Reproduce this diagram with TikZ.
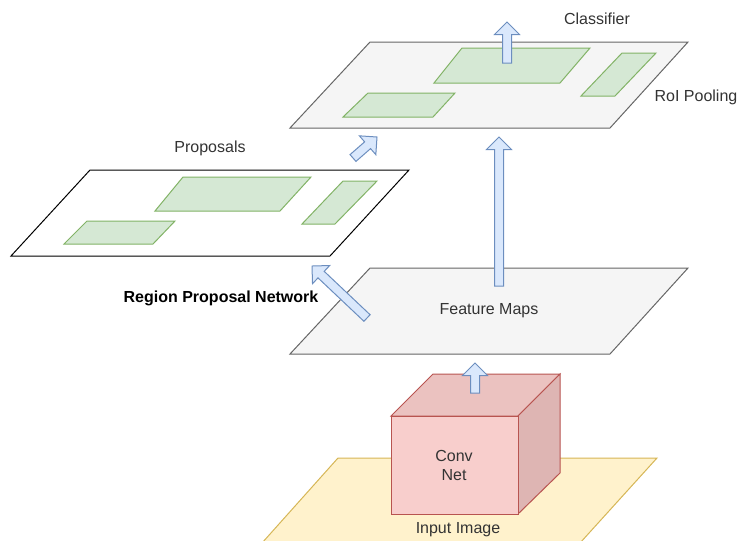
\documentclass[tikz,border=0pt]{standalone}
\usepackage{fontspec}
\setmainfont{Liberation Sans}
\usetikzlibrary{shapes.arrows,calc}

\definecolor{txtgray}{HTML}{333333}
\definecolor{planefill}{HTML}{F5F5F5}
\definecolor{planeline}{HTML}{666666}
\definecolor{roifill}{HTML}{D5E8D4}
\definecolor{roiline}{HTML}{82B366}
\definecolor{arrfill}{HTML}{DAE8FC}
\definecolor{arrline}{HTML}{6C8EBF}
\definecolor{imgfill}{HTML}{FFF2CC}
\definecolor{imgline}{HTML}{D6B656}
\definecolor{cubefront}{HTML}{F8CECC}
\definecolor{cubetop}{HTML}{EBC2C0}
\definecolor{cubeside}{HTML}{DEB5B3}
\definecolor{cubeline}{HTML}{B85450}

\tikzset{
  plane/.style={draw=planeline, fill=planefill},
  roi/.style={draw=roiline, fill=roifill},
  label/.style={text=txtgray, font=\fontsize{16}{19}\selectfont, align=center},
  blockarrow/.style={single arrow, draw=arrline, fill=arrfill, inner xsep=0pt,
    inner ysep=4pt, outer sep=0pt, single arrow head extend=8pt,
    single arrow tip angle=90, single arrow head indent=0pt, anchor=tail}
}

% block arrow between two named points
\newcommand{\blockarr}[2]{
  \path let \p1=($(#2)-(#1)$), \n1={veclen(\x1,\y1)}, \n2={atan2(\y1,\x1)} in
    node[blockarrow, minimum height=\n1, rotate=\n2] at (#1) {};
}

\begin{document}
\begin{tikzpicture}[x=1pt, y=-1pt, line width=1pt]
  \useasboundingbox (0,0) rectangle (737,541);

  % input image
  \draw[draw=imgline, fill=imgfill] (338,458) -- (657,458) -- (580,543) -- (262,543) -- cycle;
  \node[label] (input) at (458,530) {Input Image};

  % conv net cube
  \draw[draw=cubeline, fill=cubetop] (391,416) -- (433,374) -- (560,374) -- (518,416) -- cycle;
  \draw[draw=cubeline, fill=cubeside] (518,416) -- (560,374) -- (560,473) -- (518,514) -- cycle;
  \draw[draw=cubeline, fill=cubefront] (391,416) rectangle (518,514);
  \node[label] (conv) at (454,465) {Conv\\Net};

  % feature maps
  \draw[plane] (370,268) -- (688,268) -- (610,354) -- (290,354) -- cycle;
  \node[label] (feat) at (489,311) {Feature Maps};

  % proposals
  \draw[draw=black, fill=white] (90,170) -- (409,170) -- (330,256) -- (11,256) -- cycle;
  \draw[roi] (183,177) -- (311,177) -- (280,211) -- (155,211) -- cycle;
  \draw[roi] (87,221) -- (175,221) -- (153,244) -- (64,244) -- cycle;
  \draw[roi] (343,181) -- (377,181) -- (335,224) -- (302,224) -- cycle;
  \node[label] (prop) at (210,148) {Proposals};

  % roi pooling
  \draw[plane] (370,42) -- (688,42) -- (610,128) -- (290,128) -- cycle;
  \draw[roi] (462,48) -- (590,48) -- (560,83) -- (434,83) -- cycle;
  \draw[roi] (368,93) -- (455,93) -- (433,117) -- (343,117) -- cycle;
  \draw[roi] (622,53) -- (656,53) -- (615,96) -- (581,96) -- cycle;
  \node[label] (pool) at (696,97) {RoI Pooling};
  \node[label] (cls) at (597,19) {Classifier};

  \node[label, text=black, font=\fontsize{16}{19}\selectfont\bfseries] (rpn) at (221,298) {Region Proposal Network};

  % arrow ends
  \coordinate (c1) at (475,393);
  \coordinate (c2) at (475,363);
  \coordinate (f1) at (499,286);
  \coordinate (f2) at (499,137);
  \coordinate (r1) at (367,318);
  \coordinate (r2) at (312,266);
  \coordinate (p1) at (353,158);
  \coordinate (p2) at (377,137);
  \coordinate (k1) at (507,63);
  \coordinate (k2) at (507,22);

  \blockarr{c1}{c2}
  \blockarr{f1}{f2}
  \blockarr{r1}{r2}
  \blockarr{p1}{p2}
  \blockarr{k1}{k2}
\end{tikzpicture}
\end{document}
